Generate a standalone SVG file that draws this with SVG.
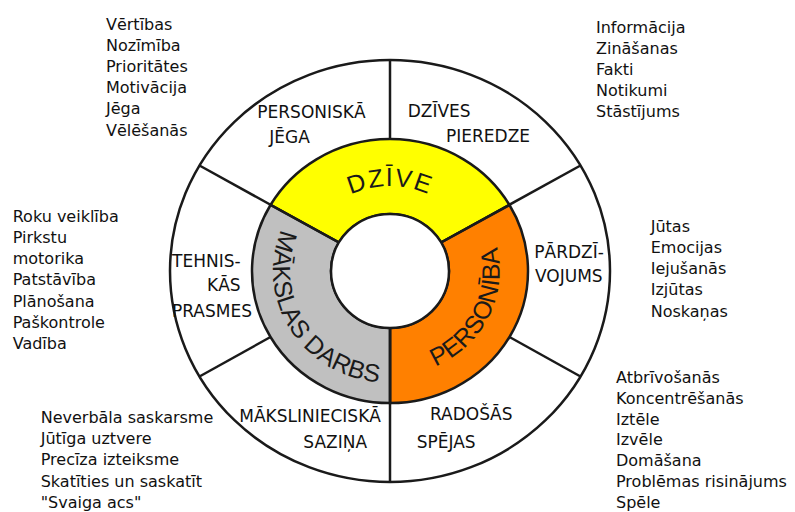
<svg xmlns="http://www.w3.org/2000/svg" width="795" height="512" viewBox="0 0 795 512">
<style>
.ln{stroke:#1a1a1a;stroke-width:2.5;fill:none}
.ring{stroke:#1a1a1a;stroke-width:2.5}
.lst{font-family:"DejaVu Sans",Verdana,sans-serif;font-size:16px;fill:#111}
.sec{font-family:"DejaVu Sans",Verdana,sans-serif;font-size:17px;fill:#111}
.core{font-family:"Liberation Sans",Arial,sans-serif;font-size:25px;fill:#1a1a1a}
</style>
<defs>
<path id="p-dzive" d="M 301 271 A 89 85 0 0 1 479 271"/>
<path id="p-personiba" d="M 390 376 A 109.7 105 0 0 0 390 166"/>
<path id="p-maksla" d="M 390 159 A 117 112 0 0 0 390 383"/>
</defs>
<rect width="795" height="512" fill="#fff"/>
<g id="wheel">
<ellipse cx="390" cy="271" rx="220" ry="211" fill="#fff" class="ring"/>
</g>
<g id="core-dzive">
<path d="M 509.5 205 A 138 132 0 0 0 270.5 205 L 338.9 242.5 A 59 57 0 0 1 441.1 242.5 Z" fill="#ffff00" class="ring"/>
<text class="core" font-size="26" letter-spacing="1.5"><textPath href="#p-dzive" startOffset="50%" text-anchor="middle">DZĪVE</textPath></text>
</g>
<g id="core-personiba">
<path d="M 509.5 205 A 138 132 0 0 1 390 403 L 390 328 A 59 57 0 0 0 441.1 242.5 Z" fill="#ff8000" class="ring"/>
<text class="core"><textPath href="#p-personiba" startOffset="35.5%" text-anchor="middle">PERSONĪBA</textPath></text>
</g>
<g id="core-maksla">
<path d="M 390 403 A 138 132 0 0 1 270.5 205 L 338.9 242.5 A 59 57 0 0 0 390 328 Z" fill="#c0c0c0" class="ring"/>
<text class="core"><textPath href="#p-maksla" startOffset="67.5%" text-anchor="middle">MĀKSLAS DARBS</textPath></text>
</g>
<g id="center">
<ellipse cx="390" cy="271" rx="59" ry="57" fill="#fff" class="ring"/>
</g>
<g id="connectors">
<line class="ln" x1="390" y1="60" x2="390" y2="139"/>
<line class="ln" x1="390" y1="328" x2="390" y2="482"/>
<line class="ln" x1="441.1" y1="242.5" x2="580.5" y2="165.5"/>
<line class="ln" x1="338.9" y1="242.5" x2="199.5" y2="165.5"/>
<line class="ln" x1="509.5" y1="337" x2="580.5" y2="376.5"/>
<line class="ln" x1="270.5" y1="337" x2="199.5" y2="376.5"/>
</g>
<g id="sector-personiska-jega">
<text class="sec" x="257.3" y="117.7">PERSONISKĀ</text>
<text class="sec" x="269.3" y="142.7">JĒGA</text>
</g>
<g id="sector-dzives-pieredze">
<text class="sec" x="407.7" y="116.7">DZĪVES</text>
<text class="sec" x="446" y="142.3">PIEREDZE</text>
</g>
<g id="sector-pardzivojums">
<text class="sec" x="534.3" y="258.3">PĀRDZĪ-</text>
<text class="sec" x="535" y="282.3">VOJUMS</text>
</g>
<g id="sector-tehniskas-prasmes">
<text class="sec" x="172" y="266.5">TEHNIS-</text>
<text class="sec" x="207" y="290.7">KĀS</text>
<text class="sec" x="172" y="316.7">PRASMES</text>
</g>
<g id="sector-maksl-sazina">
<text class="sec" x="239.3" y="421.7">MĀKSLINIECISKĀ</text>
<text class="sec" x="303.3" y="448.3">SAZIŅA</text>
</g>
<g id="sector-radosas-spejas">
<text class="sec" x="430" y="420">RADOŠĀS</text>
<text class="sec" x="416.7" y="448.3">SPĒJAS</text>
</g>
<g id="list-jega">
<text class="lst" x="106" y="29.5">Vērtības<tspan x="106" dy="21.2">Nozīmība</tspan><tspan x="106" dy="21.2">Prioritātes</tspan><tspan x="106" dy="21.2">Motivācija</tspan><tspan x="106" dy="21.2">Jēga</tspan><tspan x="106" dy="21.2">Vēlēšanās</tspan></text>
</g>
<g id="list-pieredze">
<text class="lst" x="596" y="33.3">Informācija<tspan x="596" dy="21">Zināšanas</tspan><tspan x="596" dy="21">Fakti</tspan><tspan x="596" dy="21">Notikumi</tspan><tspan x="596" dy="21">Stāstījums</tspan></text>
</g>
<g id="list-prasmes">
<text class="lst" x="12.7" y="221.7">Roku veiklība<tspan x="12.7" dy="21.2">Pirkstu</tspan><tspan x="12.7" dy="21.2">motorika</tspan><tspan x="12.7" dy="21.2">Patstāvība</tspan><tspan x="12.7" dy="21.2">Plānošana</tspan><tspan x="12.7" dy="21.2">Paškontrole</tspan><tspan x="12.7" dy="21.2">Vadība</tspan></text>
</g>
<g id="list-pardzivojums">
<text class="lst" x="650.7" y="231.7">Jūtas<tspan x="650.7" dy="21.2">Emocijas</tspan><tspan x="650.7" dy="21.2">Iejušanās</tspan><tspan x="650.7" dy="21.2">Izjūtas</tspan><tspan x="650.7" dy="21.2">Noskaņas</tspan></text>
</g>
<g id="list-sazina">
<text class="lst" x="40.7" y="422.7">Neverbāla saskarsme<tspan x="40.7" dy="21.3">Jūtīga uztvere</tspan><tspan x="40.7" dy="21.3">Precīza izteiksme</tspan><tspan x="40.7" dy="21.3">Skatīties un saskatīt</tspan><tspan x="40.7" dy="21.3">"Svaiga acs"</tspan></text>
</g>
<g id="list-spejas">
<text class="lst" x="616" y="382.7">Atbrīvošanās<tspan x="616" dy="20.9">Koncentrēšanās</tspan><tspan x="616" dy="20.9">Iztēle</tspan><tspan x="616" dy="20.9">Izvēle</tspan><tspan x="616" dy="20.9">Domāšana</tspan><tspan x="616" dy="20.9">Problēmas risinājums</tspan><tspan x="616" dy="20.9">Spēle</tspan></text>
</g>
</svg>
